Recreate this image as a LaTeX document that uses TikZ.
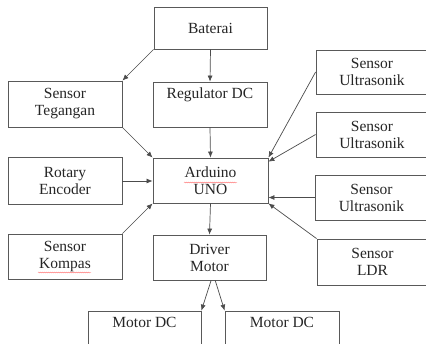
\documentclass[tikz,border=0pt]{standalone}
\usepackage{fontspec}
\setmainfont{Liberation Serif}
\usetikzlibrary{arrows.meta,decorations.pathmorphing,calc}
\begin{document}
\begin{tikzpicture}[x=1pt,y=-1pt,
  blk/.style={draw=black!65,line width=0.8pt,inner sep=0pt,align=center,
     font=\fontsize{15.5}{17}\selectfont,text=black!85},
  conn/.style={draw=black!70,line width=0.7pt,-{Latex[length=6pt,width=5pt]}},
  squig/.style={red!60,line width=0.3pt,decorate,decoration={snake,segment length=2pt,amplitude=0.5pt}}]
\useasboundingbox (0,0) rectangle (426,343);
\clip (0,0) rectangle (426,343);
\fill[white] (0,0) rectangle (426,343);
% nodes
\node[blk,minimum width=113pt,minimum height=42pt] (bat) at (210.5,28) {Baterai};
\node[blk,minimum width=114pt,minimum height=46pt] (teg) at (65,104) {Sensor\\Tegangan};
\node[blk,minimum width=114pt,minimum height=45pt] (reg) at (210,104.5) {Regulator DC\\\strut};
\node[blk,minimum width=115pt,minimum height=45pt] (ard) at (210.5,180.5) {Arduino\\UNO};
\node[blk,minimum width=114pt,minimum height=47pt] (rot) at (65,181) {Rotary\\Encoder};
\node[blk,minimum width=114pt,minimum height=45pt] (kom) at (65,256.5) {Sensor\\Kompas};
\node[blk,minimum width=113pt,minimum height=45pt] (drv) at (209.5,257.5) {Driver\\Motor};
\node[blk,minimum width=113pt,minimum height=45pt] (m1) at (144.5,333.5) {Motor DC\\\strut};
\node[blk,minimum width=114pt,minimum height=45pt] (m2) at (282,333.5) {Motor DC\\\strut};
\node[blk,minimum width=112pt,minimum height=44pt] (u1) at (372,72) {Sensor\\Ultrasonik};
\node[blk,minimum width=112pt,minimum height=45pt] (u2) at (372,134.5) {Sensor\\Ultrasonik};
\node[blk,minimum width=113pt,minimum height=45pt] (u3) at (371.5,197.5) {Sensor\\Ultrasonik};
\node[blk,minimum width=111pt,minimum height=46pt] (ldr) at (372.5,262) {Sensor\\LDR};
% connectors
\draw[conn] (bat.south west) -- (teg.north east);
\draw[conn] (bat.south) -- (reg.north);
\draw[conn] (reg.south) -- (ard.north);
\draw[conn] (teg.south east) -- (ard.north west);
\draw[conn] (rot.east) -- (rot.east -| ard.west);
\draw[conn] (kom.north east) -- (ard.south west);
\draw[conn] (ard.south) -- (drv.north);
\draw[conn] (u1.west) -- (ard.north east);
\draw[conn] (u2.west) -- (ard.18);
\draw[conn] (u3.west) -- (u3.west -| ard.east);
\draw[conn] (ldr.north west) -- (ard.south east);
\draw[conn] (drv.-86) -- (m1.north east);
\draw[conn] (drv.-76) -- (m2.north west);
% spell-check underlines
\draw[squig] (184,182.5) -- (237,182.5);
\draw[squig] (38,272.5) -- (91,272.5);
\end{tikzpicture}
\end{document}
